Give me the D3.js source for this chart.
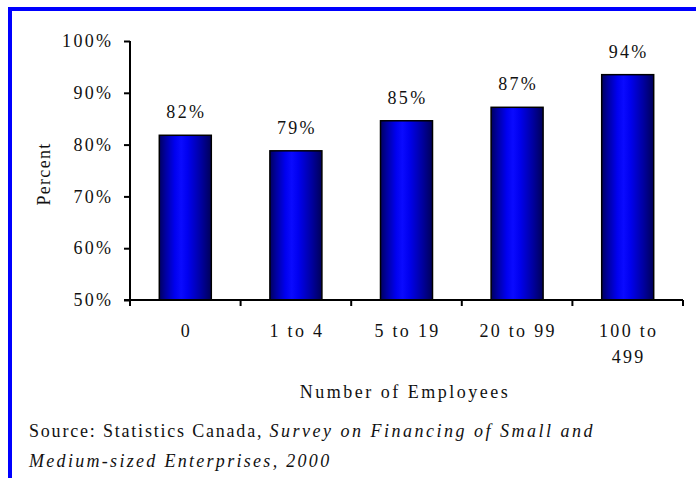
<!DOCTYPE html>
<html>
<head>
<meta charset="utf-8">
<script src="https://cdn.jsdelivr.net/npm/d3@7"></script>
</head>
<body style="margin:0;background:#fff">
<svg id="chart" width="696" height="478" style="display:block"></svg>
<script>
// Share of firms by size class (percent)
const categories = ["0", "1 to 4", "5 to 19", "20 to 99", "100 to 499"];
const values = [81.8, 78.8, 84.6, 87.2, 93.5];
const yTicks = [50, 60, 70, 80, 90, 100];
const yTitle = "Percent";
const xTitle = "Number of Employees";

const svg = d3.select("#chart");
const W = 696, H = 478;
const plot = { left: 130, right: 683, top: 41, bottom: 300 };
const FONT = '"Liberation Serif"';
const FS = "18px", LS = 2.3;
// Common text styling
const serif = (sel, ls = LS) => sel.style("font-family", FONT).style("font-size", FS)
  .style("letter-spacing", ls + "px").style("fill", "#111");

// Blue frame (top and left edges)
svg.append("rect").attr("x", 8).attr("y", 7).attr("width", W - 8).attr("height", 4).attr("fill", "#0000ff");
svg.append("rect").attr("x", 8).attr("y", 7).attr("width", 4).attr("height", H - 7).attr("fill", "#0000ff");

// Bar fill: dark edges, bright blue core
const defs = svg.append("defs");
const grad = defs.append("linearGradient").attr("id", "barGrad")
  .attr("x1", "0%").attr("x2", "100%").attr("y1", "0%").attr("y2", "0%");
[[0, "#000060"], [0.12, "#0000a0"], [0.3, "#0000f0"], [0.42, "#0a0aff"], [0.55, "#0000f0"], [0.8, "#0000a0"], [1, "#000058"]]
  .forEach(([o, c]) => grad.append("stop").attr("offset", o).attr("stop-color", c));

const xBand = d3.scaleBand().domain(categories).range([plot.left, plot.right]);
const y = d3.scaleLinear().domain([50, 100]).range([plot.bottom, plot.top]);
const cx = c => xBand(c) + xBand.bandwidth() / 2;

// Bars
svg.append("g").selectAll("rect").data(values).join("rect")
  .attr("x", (d, i) => cx(categories[i]) - 26)
  .attr("width", 52)
  .attr("y", d => y(d))
  .attr("height", d => y(50) - y(d))
  .attr("fill", "url(#barGrad)")
  .attr("stroke", "#000").attr("stroke-width", 1.5);

// Value labels
svg.append("g").selectAll("text").data(values).join("text")
  .attr("x", (d, i) => cx(categories[i]) + 1)
  .attr("y", d => y(d) - 17)
  .attr("text-anchor", "middle")
  .call(serif)
  .text(d => Math.round(d) + "%");

// Y axis
const yAxis = svg.append("g").attr("transform", `translate(${plot.left},0)`)
  .call(d3.axisLeft(y).tickValues(yTicks).tickFormat(d => d + "%").tickSize(6).tickPadding(13 - LS));
yAxis.select(".domain").attr("stroke", "#000").attr("stroke-width", 2).attr("d", `M0,${plot.top}V${plot.bottom}`);
yAxis.selectAll(".tick line").attr("stroke", "#000").attr("stroke-width", 2);
yAxis.selectAll(".tick text").call(serif);

// X axis: ticks sit at category boundaries
const bounds = categories.map(c => xBand(c)).concat([plot.right]);
const xAxis = svg.append("g");
xAxis.append("line").attr("x1", plot.left - 6).attr("x2", plot.right).attr("y1", plot.bottom).attr("y2", plot.bottom)
  .attr("stroke", "#000").attr("stroke-width", 2);
xAxis.selectAll("line.tk").data(bounds).join("line").attr("class", "tk")
  .attr("x1", d => d).attr("x2", d => d).attr("y1", plot.bottom).attr("y2", plot.bottom + 6)
  .attr("stroke", "#000").attr("stroke-width", 2);

// Category labels, wrapped where long
const catLines = c => c === "100 to 499" ? ["100 to", "499"] : [c];
xAxis.selectAll("text.cat").data(categories).join("text").attr("class", "cat")
  .attr("text-anchor", "middle")
  .call(serif)
  .each(function (c) {
    const t = d3.select(this);
    catLines(c).forEach((line, k) => {
      t.append("tspan").attr("x", cx(c) + 1).attr("y", 337 + k * 26).text(line);
    });
  });

// Axis titles
svg.append("text").attr("transform", "translate(50,174) rotate(-90)")
  .attr("text-anchor", "middle").call(serif, 1.3).text(yTitle);
svg.append("text").attr("x", 405).attr("y", 398).attr("text-anchor", "middle")
  .call(serif, 2.5).text(xTitle);

// Source note
const src = svg.append("text").attr("x", 29).attr("y", 437).call(serif, 1.8);
src.append("tspan").text("Source: Statistics Canada, ");
src.append("tspan").style("font-style", "italic").style("letter-spacing", "2.5px").text("Survey on Financing of Small and");
svg.append("text").attr("x", 29).attr("y", 467).call(serif, 2.3)
  .style("font-style", "italic").text("Medium-sized Enterprises, 2000");
</script>
</body>
</html>
